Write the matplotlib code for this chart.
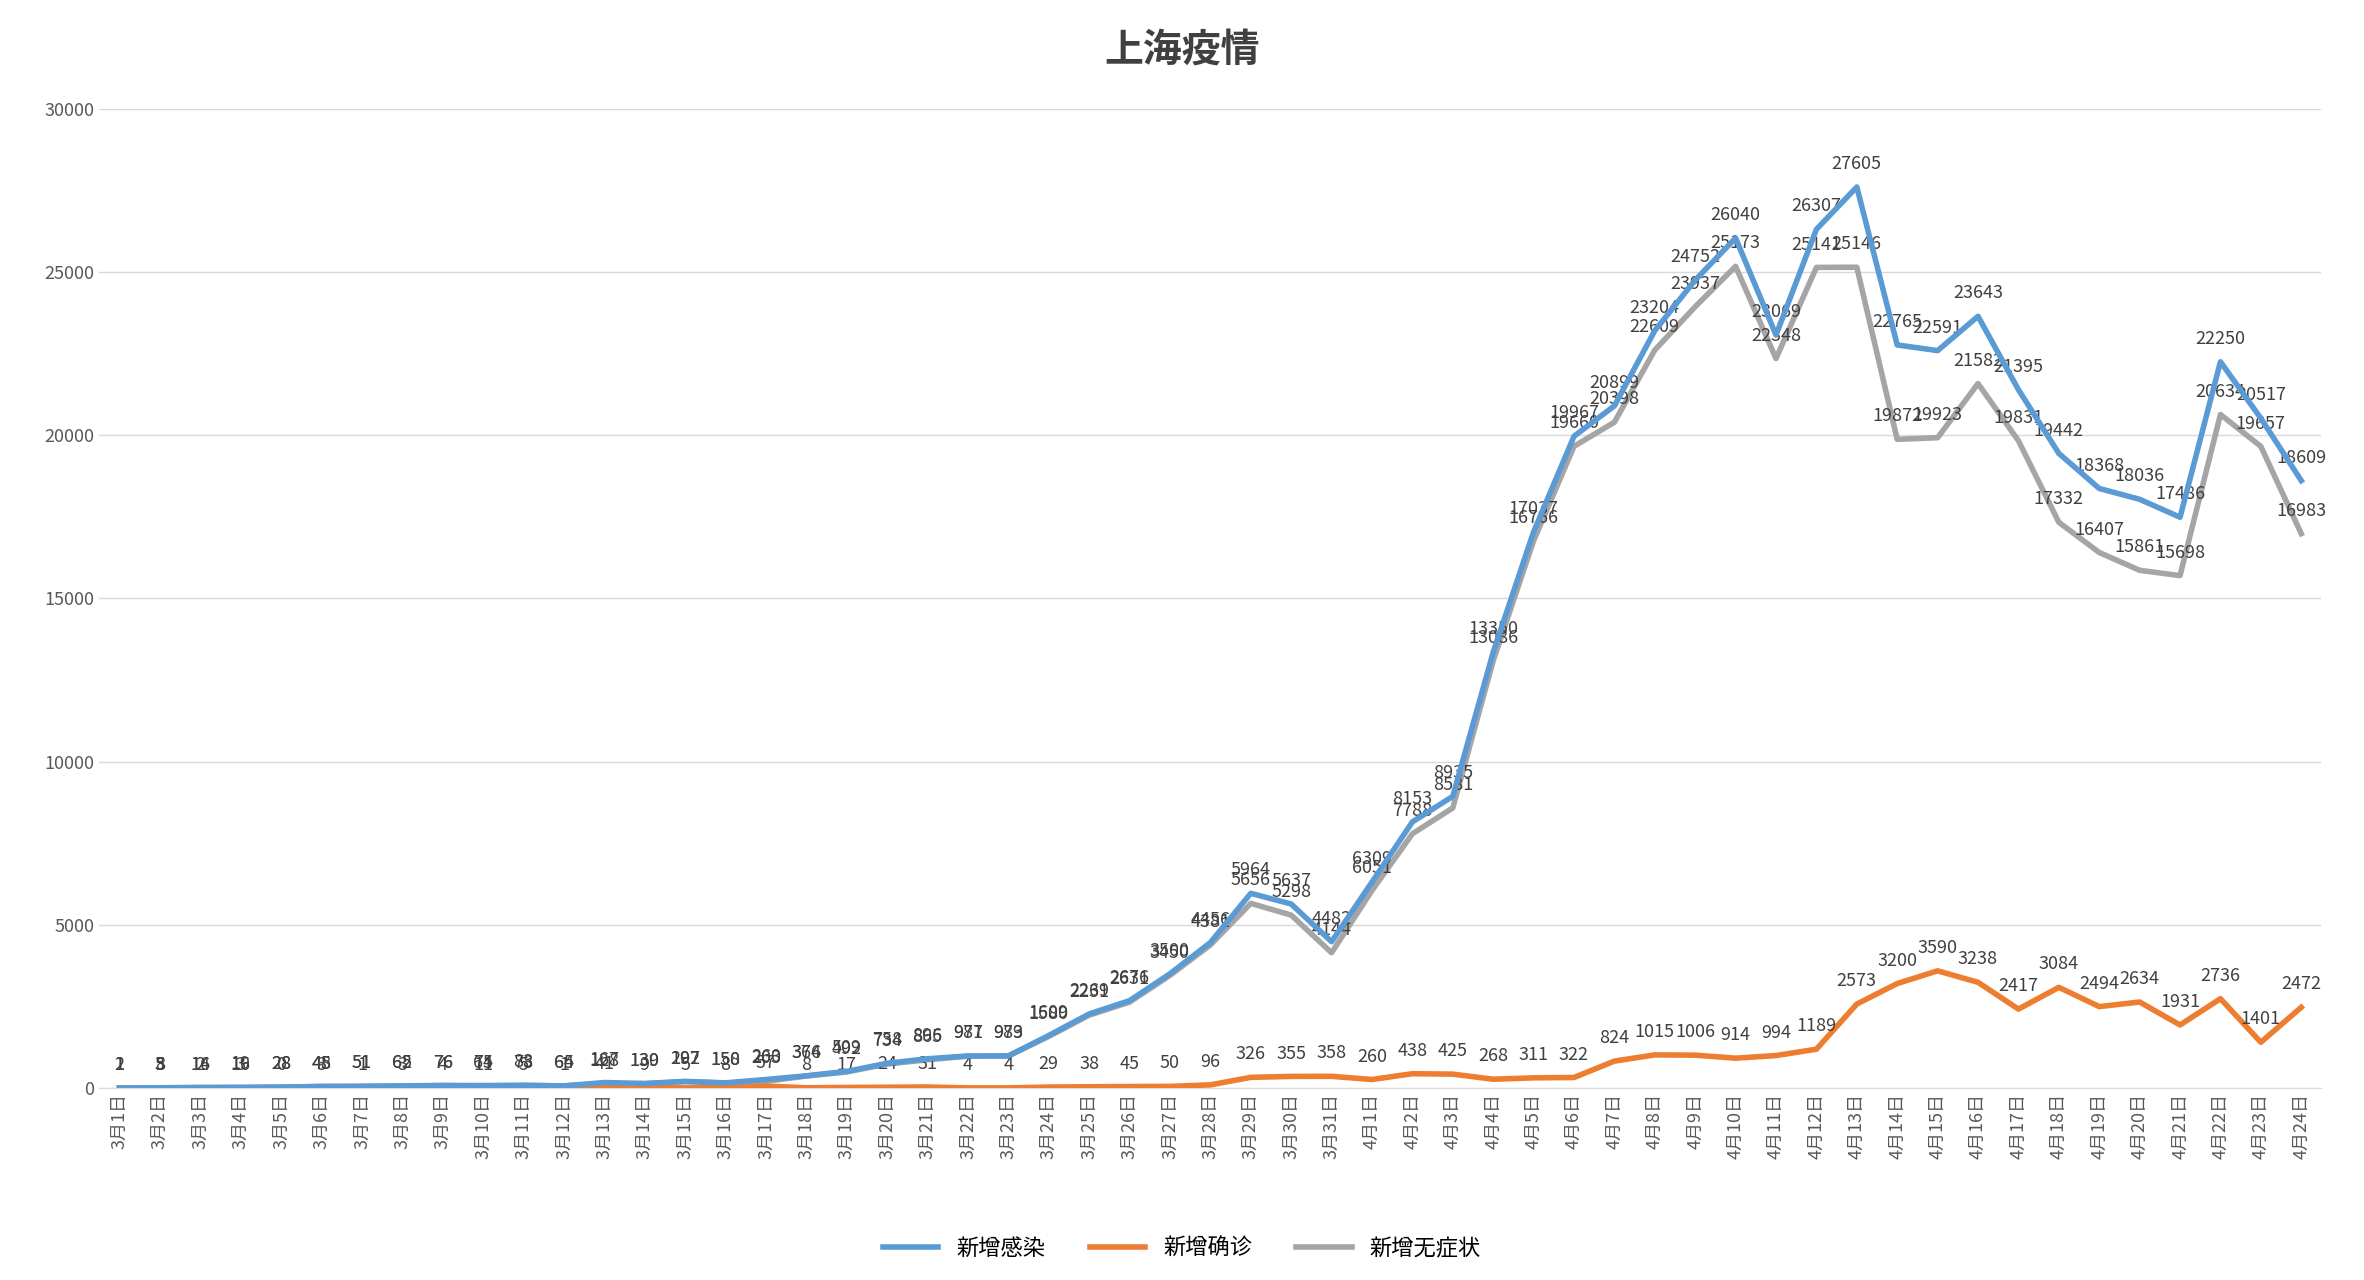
import matplotlib
matplotlib.use("Agg")
import matplotlib.pyplot as plt
from matplotlib import font_manager as fm
import glob

cjk = None
for f in glob.glob('/usr/share/fonts/**/*CJK*', recursive=True) + glob.glob('/usr/share/fonts/**/*cjk*', recursive=True):
    try:
        fm.fontManager.addfont(f)
        name = fm.FontProperties(fname=f).get_name()
        if 'SC' in name or cjk is None:
            cjk = name
    except Exception:
        pass
plt.rcParams['font.family'] = [cjk or 'Noto Sans CJK SC', 'DejaVu Sans']

dates = [f"3月{d}日" for d in range(1, 32)] + [f"4月{d}日" for d in range(1, 25)]
infected = [2, 8, 16, 19, 28, 48, 51, 65, 76, 75, 83, 65, 167, 139, 202, 158, 260, 374, 509, 758,
            896, 981, 983, 1609, 2269, 2676, 3500, 4456, 5964, 5637, 4482, 6309, 8153, 8935, 13350,
            17037, 19967, 20899, 23204, 24752, 26040, 23069, 26307, 27605, 22765, 22591, 23643,
            21395, 19442, 18368, 18036, 17486, 22250, 20517, 18609]
confirmed = [1, 3, 2, 3, 0, 3, 1, 3, 4, 11, 5, 1, 41, 9, 5, 8, 57, 8, 17, 24,
             31, 4, 4, 29, 38, 45, 50, 96, 326, 355, 358, 260, 438, 425, 268,
             311, 322, 824, 1015, 1006, 914, 994, 1189, 2573, 3200, 3590, 3238,
             2417, 3084, 2494, 2634, 1931, 2736, 1401, 2472]
asymptomatic = [1, 5, 14, 16, 28, 45, 51, 62, 76, 64, 78, 64, 128, 130, 197, 150, 203, 366, 492, 734,
                865, 977, 979, 1580, 2231, 2631, 3450, 4381, 5656, 5298, 4144, 6051, 7788, 8581, 13086,
                16766, 19660, 20398, 22609, 23937, 25173, 22348, 25141, 25146, 19872, 19923, 21582,
                19831, 17332, 16407, 15861, 15698, 20634, 19657, 16983]
series_names = ["新增感染", "新增确诊", "新增无症状"]
colors = ["#5B9BD5", "#ED7D31", "#A5A5A5"]

fig = plt.figure(figsize=(23.64, 12.8), dpi=100)
ax = fig.add_axes([0.042, 0.15, 0.94, 0.765])
x = list(range(len(dates)))
ax.plot(x, asymptomatic, color=colors[2], lw=4, label=series_names[2], zorder=2)
ax.plot(x, confirmed, color=colors[1], lw=4, label=series_names[1], zorder=3)
ax.plot(x, infected, color=colors[0], lw=4, label=series_names[0], zorder=4)
for data in (infected, confirmed, asymptomatic):
    for xi, v in zip(x, data):
        ax.annotate(str(v), (xi, v), xytext=(0, 10), textcoords='offset points',
                    ha='center', va='bottom', fontsize=13, color='#404040')
ax.set_xlim(-0.5, len(dates) - 0.5)
ax.set_ylim(0, 30000)
ax.set_yticks(range(0, 30001, 5000))
ax.tick_params(axis='y', length=0, labelsize=13, colors='#595959')
ax.set_xticks(x)
ax.set_xticklabels(dates, rotation=90, fontsize=13, color='#595959')
ax.tick_params(axis='x', length=0)
ax.grid(axis='y', color='#D9D9D9', lw=1)
ax.set_axisbelow(True)
for s in ['top', 'right', 'left']:
    ax.spines[s].set_visible(False)
ax.spines['bottom'].set_color('#D9D9D9')
fig.suptitle("上海疫情", y=0.975, fontsize=28, color='#404040', fontweight='bold')
h, l = ax.get_legend_handles_labels()
order = [2, 1, 0]
fig.legend([h[i] for i in order], [l[i] for i in order], loc='lower center',
           bbox_to_anchor=(0.5, 0.0), ncol=3, frameon=False, fontsize=16, handlelength=2.5)
fig.savefig("out.png", dpi=100, facecolor='white')
